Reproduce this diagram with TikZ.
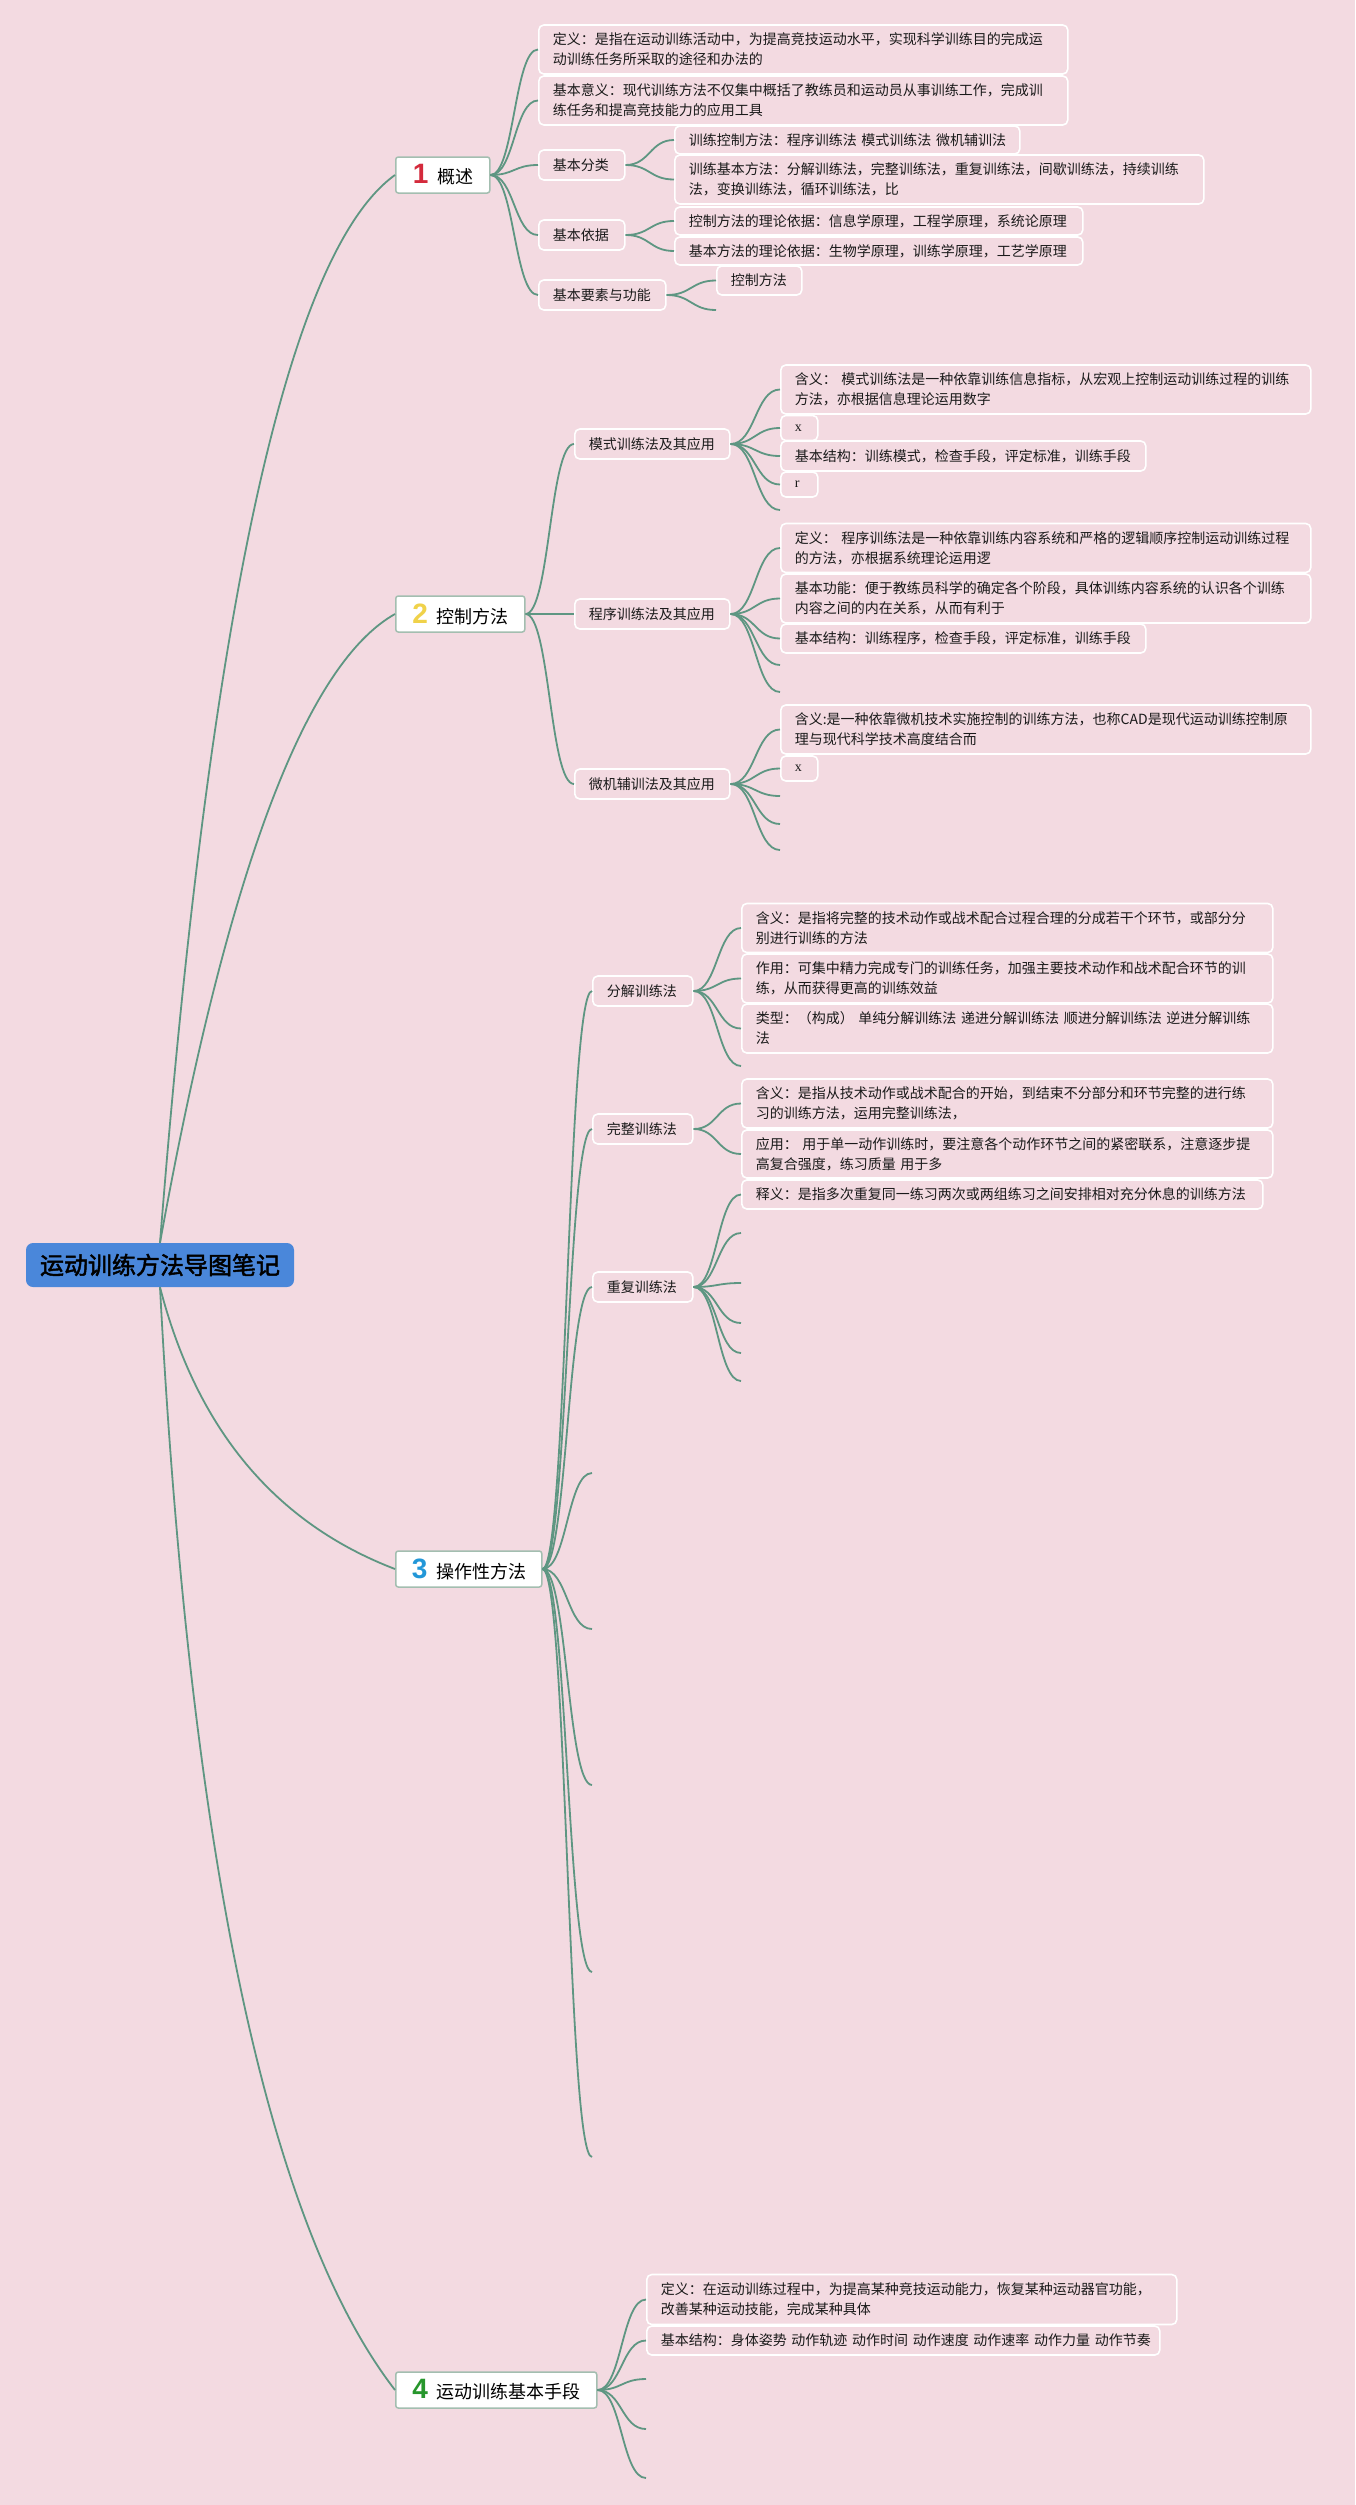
\documentclass[tikz,border=0pt]{standalone}
\usepackage{fontspec}
\setmainfont{Noto Sans CJK SC}
\newfontfamily\cjkbold{Noto Sans CJK SC}[FakeBold=2]
\newfontfamily\digitfont{Liberation Sans}
\newfontfamily\latinserif{Liberation Serif}
\usetikzlibrary{calc}
\definecolor{bgC}{HTML}{F3DAE1}
\definecolor{lineC}{HTML}{5E9682}
\definecolor{rootC}{HTML}{4A87DA}
\definecolor{topicB}{HTML}{A3BEB0}
\definecolor{numA}{HTML}{D42A3C}
\definecolor{numB}{HTML}{F0D24A}
\definecolor{numC}{HTML}{2297D8}
\definecolor{numD}{HTML}{27962C}
\definecolor{txtC}{HTML}{1A1A1A}
\tikzset{
  conn/.style={draw=lineC, line width=1.8pt},
  leaf/.style={draw=white, line width=1.6pt, rounded corners=5pt, fill=bgC, anchor=west,
    align=left, inner xsep=14pt, inner ysep=0pt, text=txtC, font=\fontsize{14}{20}\selectfont},
  topic/.style={draw=topicB, line width=1.5pt, rounded corners=2.5pt, fill=white, anchor=west,
    inner sep=0pt, minimum height=36pt, text=black, font=\fontsize{18}{22}\selectfont},
  rootbox/.style={fill=rootC, rounded corners=7pt, inner sep=0pt, minimum width=268pt,
    minimum height=44pt, font=\cjkbold\fontsize{24}{28}\selectfont, text=black},
}
\newcommand\numlabel[2]{\makebox[17pt]{\color{#1}\digitfont\bfseries\fontsize{28}{28}\selectfont #2}\hspace{8pt}}
\newcommand\sconn[2]{\draw[conn] (#1) .. controls ($(#1)!0.5!(#2 |- #1)$) and ($(#1 |- #2)!0.5!(#2)$) .. (#2);}
\newcommand\qconn[3]{\draw[conn] (#1) .. controls ($(#1)!0.6667!(#2)$) and ($(#3)!0.6667!(#2)$) .. (#3);}
\begin{document}
\begin{tikzpicture}[x=1pt, y=-1pt]
\useasboundingbox (0,0) rectangle (1355,2505);
\fill[bgC] (0,0) rectangle (1355,2505);

% root
\node[rootbox] (root) at (160,1265) {运动训练方法导图笔记};

% ---------- section 1 ----------
\node[topic, minimum width=94pt] (t1) at (395,175) {\numlabel{numA}{1}概述};
\node[leaf, text width=501pt, minimum height=49pt] (a1) at (538,49.5)
  {\mbox{定义：是指在运动训练活动中，为提高竞技运动水平，实现科学训练目的完成运}\\\mbox{动训练任务所采取的途径和办法的}};
\node[leaf, text width=501pt, minimum height=49pt] (a2) at (538,100.5)
  {\mbox{基本意义：现代训练方法不仅集中概括了教练员和运动员从事训练工作，完成训}\\\mbox{练任务和提高竞技能力的应用工具}};
\node[leaf, text width=58pt, minimum height=30pt] (a3) at (538,165) {基本分类};
\node[leaf, text width=58pt, minimum height=30pt] (a4) at (538,235) {基本依据};
\node[leaf, text width=99pt, minimum height=30pt] (a5) at (538,295) {基本要素与功能};
\node[leaf, text width=317pt, minimum height=28pt] (b1) at (674,140) {\mbox{训练控制方法：程序训练法 模式训练法 微机辅训法}};
\node[leaf, text width=501pt, minimum height=49pt] (b2) at (674,179.5)
  {\mbox{训练基本方法：分解训练法，完整训练法，重复训练法，间歇训练法，持续训练}\\\mbox{法，变换训练法，循环训练法，比}};
\node[leaf, text width=380pt, minimum height=28pt] (b3) at (674,221) {\mbox{控制方法的理论依据：信息学原理，工程学原理，系统论原理}};
\node[leaf, text width=380pt, minimum height=28pt] (b4) at (674,251) {\mbox{基本方法的理论依据：生物学原理，训练学原理，工艺学原理}};
\node[leaf, text width=57pt, minimum height=29pt] (b5) at (716,280.5) {控制方法};
\coordinate (e1) at (716,310);

% ---------- section 2 ----------
\node[topic, minimum width=129pt] (t2) at (395,614) {\numlabel{numB}{2}控制方法};
\node[leaf, text width=127pt, minimum height=30pt] (m1) at (574,444) {模式训练法及其应用};
\node[leaf, text width=127pt, minimum height=30pt] (m2) at (574,614) {程序训练法及其应用};
\node[leaf, text width=127pt, minimum height=30pt] (m3) at (574,784) {微机辅训法及其应用};
\node[leaf, text width=502pt, minimum height=49pt] (c11) at (780,389.5)
  {\mbox{含义： 模式训练法是一种依靠训练信息指标，从宏观上控制运动训练过程的训练}\\\mbox{方法，亦根据信息理论运用数字}};
\node[leaf, text width=9pt, minimum height=25pt] (c12) at (780,428) {\latinserif x};
\node[leaf, text width=337pt, minimum height=30pt] (c13) at (780,456) {\mbox{基本结构：训练模式，检查手段，评定标准，训练手段}};
\node[leaf, text width=9pt, minimum height=25pt] (c14) at (780,484.5) {\latinserif r};
\coordinate (e21) at (780,510);
\node[leaf, text width=502pt, minimum height=49pt] (c21) at (780,548)
  {\mbox{定义： 程序训练法是一种依靠训练内容系统和严格的逻辑顺序控制运动训练过程}\\\mbox{的方法，亦根据系统理论运用逻}};
\node[leaf, text width=502pt, minimum height=49pt] (c22) at (780,598.5)
  {\mbox{基本功能：便于教练员科学的确定各个阶段，具体训练内容系统的认识各个训练}\\\mbox{内容之间的内在关系，从而有利于}};
\node[leaf, text width=337pt, minimum height=29pt] (c23) at (780,638.5) {\mbox{基本结构：训练程序，检查手段，评定标准，训练手段}};
\coordinate (e22) at (780,665);
\coordinate (e23) at (780,692);
\node[leaf, text width=502pt, minimum height=49pt] (c31) at (780,729.5)
  {\mbox{含义:是一种依靠微机技术实施控制的训练方法，也称CAD是现代运动训练控制原}\\\mbox{理与现代科学技术高度结合而}};
\node[leaf, text width=9pt, minimum height=25pt] (c32) at (780,768.5) {\latinserif x};
\coordinate (e31) at (780,796);
\coordinate (e32) at (780,824);
\coordinate (e33) at (780,850);

% ---------- section 3 ----------
\node[topic, minimum width=146pt] (t3) at (395,1569) {\numlabel{numC}{3}操作性方法};
\node[leaf, text width=72pt, minimum height=30pt] (s1) at (592,991) {分解训练法};
\node[leaf, text width=72pt, minimum height=30pt] (s2) at (592,1129) {完整训练法};
\node[leaf, text width=72pt, minimum height=30pt] (s3) at (592,1287) {重复训练法};
\coordinate (g1) at (592,1473);
\coordinate (g2) at (592,1629);
\coordinate (g3) at (592,1785);
\coordinate (g4) at (592,1972);
\coordinate (g5) at (592,2157);
\node[leaf, text width=503pt, minimum height=49pt] (d11) at (741,928)
  {\mbox{含义：是指将完整的技术动作或战术配合过程合理的分成若干个环节，或部分分}\\\mbox{别进行训练的方法}};
\node[leaf, text width=503pt, minimum height=49pt] (d12) at (741,978.5)
  {\mbox{作用：可集中精力完成专门的训练任务，加强主要技术动作和战术配合环节的训}\\\mbox{练，从而获得更高的训练效益}};
\node[leaf, text width=503pt, minimum height=49pt] (d13) at (741,1028.5)
  {\mbox{类型：（构成） 单纯分解训练法 递进分解训练法 顺进分解训练法 逆进分解训练}\\\mbox{法}};
\coordinate (h1) at (741,1066);
\node[leaf, text width=503pt, minimum height=49pt] (d21) at (741,1103.5)
  {\mbox{含义：是指从技术动作或战术配合的开始，到结束不分部分和环节完整的进行练}\\\mbox{习的训练方法，运用完整训练法，}};
\node[leaf, text width=503pt, minimum height=48pt] (d22) at (741,1154)
  {\mbox{应用： 用于单一动作训练时，要注意各个动作环节之间的紧密联系，注意逐步提}\\\mbox{高复合强度，练习质量 用于多}};
\node[leaf, text width=493pt, minimum height=29pt] (d31) at (741,1194.5)
  {\mbox{释义：是指多次重复同一练习两次或两组练习之间安排相对充分休息的训练方法}};
\coordinate (h2) at (741,1233);
\coordinate (h3) at (741,1283);
\coordinate (h4) at (741,1323);
\coordinate (h5) at (741,1353);
\coordinate (h6) at (741,1381);

% ---------- section 4 ----------
\node[topic, minimum width=201pt] (t4) at (395,2390) {\numlabel{numD}{4}运动训练基本手段};
\node[leaf, text width=502pt, minimum height=50pt] (f1) at (646,2299.5)
  {\mbox{定义：在运动训练过程中，为提高某种竞技运动能力，恢复某种运动器官功能，}\\\mbox{改善某种运动技能，完成某种具体}};
\node[leaf, text width=485pt, minimum height=29pt] (f2) at (646,2340.5)
  {\mbox{基本结构：身体姿势 动作轨迹 动作时间 动作速度 动作速率 动作力量 动作节奏}};
\coordinate (k1) at (646,2379);
\coordinate (k2) at (646,2429);
\coordinate (k3) at (646,2478);

% ---------- connectors ----------
\coordinate (q1) at (235,290);
\coordinate (q2) at (260,690);
\coordinate (q3) at (215,1500);
\coordinate (q4) at (205,2144);
\qconn{root.north}{q1}{t1.west}
\qconn{root.north}{q2}{t2.west}
\qconn{root.south}{q3}{t3.west}
\qconn{root.south}{q4}{t4.west}

\foreach \c in {a1,a2,a3,a4,a5} {\sconn{t1.east}{\c.west}}
\foreach \c in {b1,b2} {\sconn{a3.east}{\c.west}}
\foreach \c in {b3,b4} {\sconn{a4.east}{\c.west}}
\sconn{a5.east}{b5.west}
\sconn{a5.east}{e1}

\foreach \c in {m1,m2,m3} {\sconn{t2.east}{\c.west}}
\foreach \c in {c11,c12,c13,c14} {\sconn{m1.east}{\c.west}}
\sconn{m1.east}{e21}
\foreach \c in {c21,c22,c23} {\sconn{m2.east}{\c.west}}
\sconn{m2.east}{e22}
\sconn{m2.east}{e23}
\foreach \c in {c31,c32} {\sconn{m3.east}{\c.west}}
\foreach \c in {e31,e32,e33} {\sconn{m3.east}{\c}}

\foreach \c in {s1,s2,s3} {\sconn{t3.east}{\c.west}}
\foreach \c in {g1,g2,g3,g4,g5} {\sconn{t3.east}{\c}}
\foreach \c in {d11,d12,d13} {\sconn{s1.east}{\c.west}}
\sconn{s1.east}{h1}
\foreach \c in {d21,d22} {\sconn{s2.east}{\c.west}}
\sconn{s3.east}{d31.west}
\foreach \c in {h2,h3,h4,h5,h6} {\sconn{s3.east}{\c}}

\foreach \c in {f1,f2} {\sconn{t4.east}{\c.west}}
\foreach \c in {k1,k2,k3} {\sconn{t4.east}{\c}}
\end{tikzpicture}
\end{document}
